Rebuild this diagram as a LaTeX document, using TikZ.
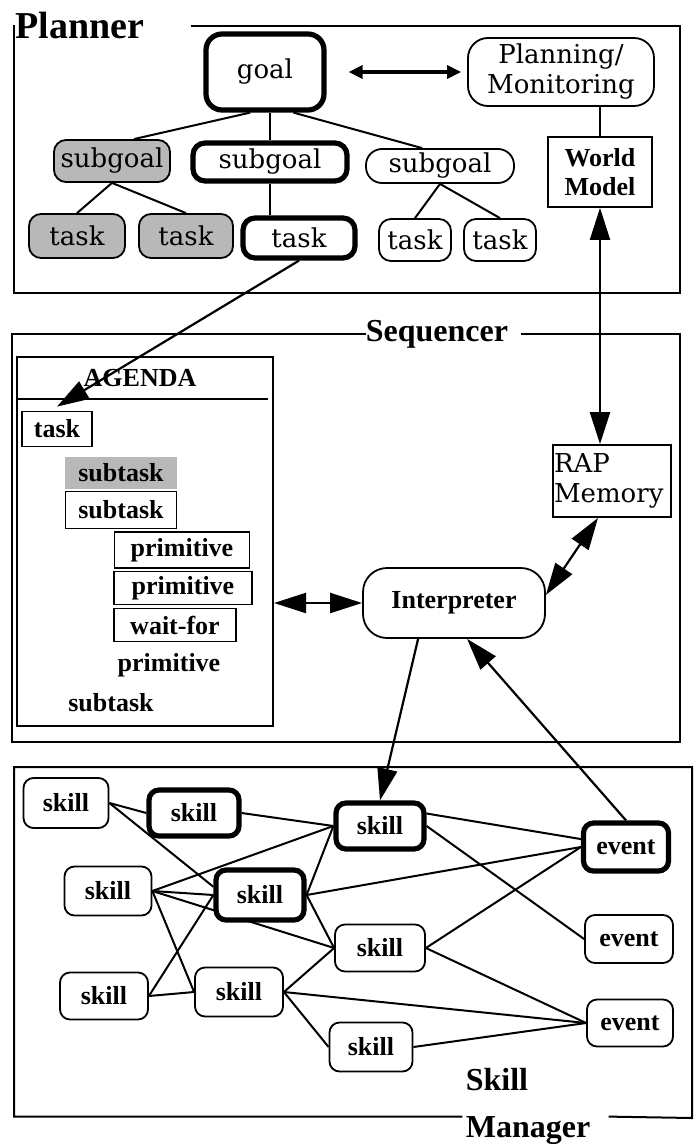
\documentclass[tikz,border=0pt]{standalone}
\usepackage{fontspec}
\setmainfont{Liberation Serif}
\newfontfamily\centfont{DejaVu Serif}
\usetikzlibrary{arrows.meta,backgrounds}

\begin{document}
\begin{tikzpicture}[x=0.5pt,y=-0.5pt,
  plbox/.style={draw,line width=0.9pt,rounded corners=6pt,fill=white,inner sep=0pt,
    font=\centfont\fontsize{13}{15}\selectfont},
  heavy/.style={line width=2.6pt},
  stipple/.style={fill=black!28},
  sqbox/.style={draw,line width=0.9pt,fill=white,inner sep=0pt,font=\bfseries\fontsize{13}{14.5}\selectfont},
  skbox/.style={draw,line width=0.9pt,rounded corners=5pt,fill=white,inner sep=0pt,
    font=\bfseries\fontsize{13}{15}\selectfont},
  titletext/.style={inner sep=0pt,font=\bfseries\fontsize{16}{18}\selectfont},
  link/.style={line width=1pt},
  bigarrow/.style={line width=1.1pt,-{Triangle[length=16pt,width=10pt]}},
  bigboth/.style={line width=1.1pt,{Triangle[length=16pt,width=10pt]}-{Triangle[length=16pt,width=10pt]}},
]
\useasboundingbox (0,0) rectangle (696,1145);

% Planner
\node[titletext,font=\bfseries\fontsize{19}{21}\selectfont] (planner) at (80,26) {Planner};
\draw[link] ([xshift=23pt]planner.east) -- (680,26) -- (680,293) -- (14,293) -- (14,26) -- (planner.west);

\node[plbox,heavy,rounded corners=8pt,minimum width=59pt,minimum height=38pt] (goal) at (265,72) {goal};
\node[plbox,rounded corners=10pt,align=center,minimum width=93pt,minimum height=34pt] (plan) at (561,72) {Planning/\\Monitoring};
\node[sqbox,align=center,minimum width=52pt,minimum height=35pt] (wm) at (600,172) {World\\Model};

\node[plbox,stipple,minimum width=58pt,minimum height=21pt] (sga) at (112,161) {subgoal};
\node[plbox,heavy,minimum width=77pt,minimum height=19pt] (sgb) at (270,162) {subgoal};
\node[plbox,rounded corners=8pt,minimum width=74pt,minimum height=17pt] (sgc) at (440,166) {subgoal};
\node[plbox,stipple,minimum width=48pt,minimum height=22pt] (ta) at (77,236) {task};
\node[plbox,stipple,minimum width=47pt,minimum height=22pt] (tb) at (186,236) {task};
\node[plbox,heavy,minimum width=56pt,minimum height=20pt] (tc) at (299,238) {task};
\node[plbox,minimum width=36pt,minimum height=21pt] (td) at (415,240) {task};
\node[plbox,minimum width=36pt,minimum height=21pt] (te) at (500,240) {task};

\draw[link] (goal.250) -- (sga.45);
\draw[link] (goal.south -| sgb.north) -- (sgb.north);
\draw[link] (goal.305) -- (sgc.135);
\draw[link] (sga.south) -- (ta.north);
\draw[link] (sga.south) -- (tb.north);
\draw[link] (sgb.south) -- (sgb.south |- tc.north);
\draw[link] (sgc.south) -- (td.north);
\draw[link] (sgc.south) -- (te.north);
\draw[link] (plan.south -| wm.north) -- (wm.north);
\draw[line width=2pt,{Triangle[length=7pt,width=6.5pt]}-{Triangle[length=7pt,width=6.5pt]},shorten <=11pt,shorten >=3pt] (goal.east) -- (plan.west);

% Sequencer
\node[titletext] (seq) at (437,334) {Sequencer};
\draw[link] (seq.west) -- (12,334) -- (12,742) -- (680,742) -- (680,334) -- ([xshift=6pt]seq.east);

\node[draw,line width=1pt,minimum width=128pt,minimum height=184.5pt,inner sep=0pt] (agenda) at (145,541.5) {};
\node[inner sep=0pt,font=\bfseries\fontsize{13}{15}\selectfont] (agtitle) at (140,378) {AGENDA};
\draw[link] (17,399) -- (268,399);

\node[sqbox,minimum width=35pt,minimum height=17.5pt] (atask) at (57,429) {task};
\node[sqbox,draw=none,stipple,minimum width=56pt,minimum height=16pt] (asuba) at (121,473) {subtask};
\node[sqbox,minimum width=55.5pt,minimum height=18.5pt] (asubb) at (121,510) {subtask};
\node[sqbox,minimum width=67.5pt,minimum height=18pt] (prima) at (182,550) {primitive};
\node[sqbox,minimum width=69pt,minimum height=16.5pt] (primb) at (183,588) {primitive};
\node[sqbox,minimum width=61pt,minimum height=16.5pt] (waitf) at (175,625) {wait-for};
\node[sqbox,draw=none] (primc) at (169,665) {primitive};
\node[sqbox,draw=none] (asubc) at (111,703) {subtask};

\node[sqbox,rounded corners=12pt,minimum width=91pt,minimum height=35pt] (interp) at (454,603) {Interpreter};
\node[draw,line width=0.9pt,fill=white,inner xsep=0.5pt,inner ysep=0pt,text width=58pt,minimum height=36pt,
  align=left,font=\centfont\fontsize{13}{15}\selectfont] (rap) at (612,481) {RAP\\Memory};

% Skill Manager
\node[titletext] (skl) at (497,1080) {Skill};
\node[titletext] (mgr) at (528,1131) {Manager};
\draw[link] ([xshift=-1.5pt]mgr.north west) -| (14,767) -| (692,1118) -- ([xshift=9pt]mgr.north east);

\node[skbox,minimum width=42.5pt,minimum height=25pt] (s1) at (66,803) {skill};
\node[skbox,heavy,minimum width=45pt,minimum height=23pt] (s2) at (194,813) {skill};
\node[skbox,heavy,minimum width=44pt,minimum height=23pt] (s3) at (380,826) {skill};
\node[skbox,minimum width=43.5pt,minimum height=24.5pt] (s4) at (108,891) {skill};
\node[skbox,heavy,minimum width=44pt,minimum height=25pt] (s5) at (260,895) {skill};
\node[skbox,minimum width=45pt,minimum height=23.5pt] (s6) at (380,948) {skill};
\node[skbox,minimum width=44pt,minimum height=23.5pt] (s7) at (104,996) {skill};
\node[skbox,minimum width=44pt,minimum height=24.5pt] (s8) at (239,992) {skill};
\node[skbox,minimum width=41.5pt,minimum height=24.5pt] (s9) at (371,1047) {skill};
\node[skbox,heavy,minimum width=42.5pt,minimum height=24pt] (e1) at (626,847) {event};
\node[skbox,minimum width=44pt,minimum height=24pt] (e2) at (629,939) {event};
\node[skbox,minimum width=43pt,minimum height=23.5pt] (e3) at (630,1023) {event};

\begin{scope}[on background layer]
\draw[link] (s1.east) -- (s2.west);
\draw[link] (s1.east) -- (s5.170);
\draw[link] (s2.east) -- (s3.west);
\draw[link] (s4.east) -- (s3.west);
\draw[link] (s4.east) -- (s5.west);
\draw[link] (s4.east) -- (s6.west);
\draw[link] (s4.east) -- (s8.west);
\draw[link] (s5.west) -- (s7.east);
\draw[link] (s7.east) -- (s8.west);
\draw[link] (s5.east) -- (s3.west);
\draw[link] (s5.east) -- (e1.west);
\draw[link] (s5.east) -- (s6.west);
\draw[link] (s3.15) -- (e1.170);
\draw[link] (s3.east) -- (e2.west);
\draw[link] (e1.west) -- (s6.east);
\draw[link] (s6.east) -- (e3.west);
\draw[link] (s8.east) -- (s6.west);
\draw[link] (s8.east) -- (e3.west);
\draw[link] (s8.east) -- (s9.west);
\draw[link] (s9.east) -- (e3.west);
\end{scope}

% arrows between layers
\draw[bigarrow] (tc.south) -- ([yshift=2pt]atask.north);
\draw[bigboth] (wm.south) -- (wm.south |- rap.north);
\draw[bigboth] (interp.west -| agenda.east) -- (interp.west);
\draw[bigboth] ([xshift=-7pt]rap.south) -- (interp.5);
\draw[bigarrow] (interp.225) -- (s3.north);
\draw[bigarrow] (e1.north) -- (interp.290);
\end{tikzpicture}
\end{document}
